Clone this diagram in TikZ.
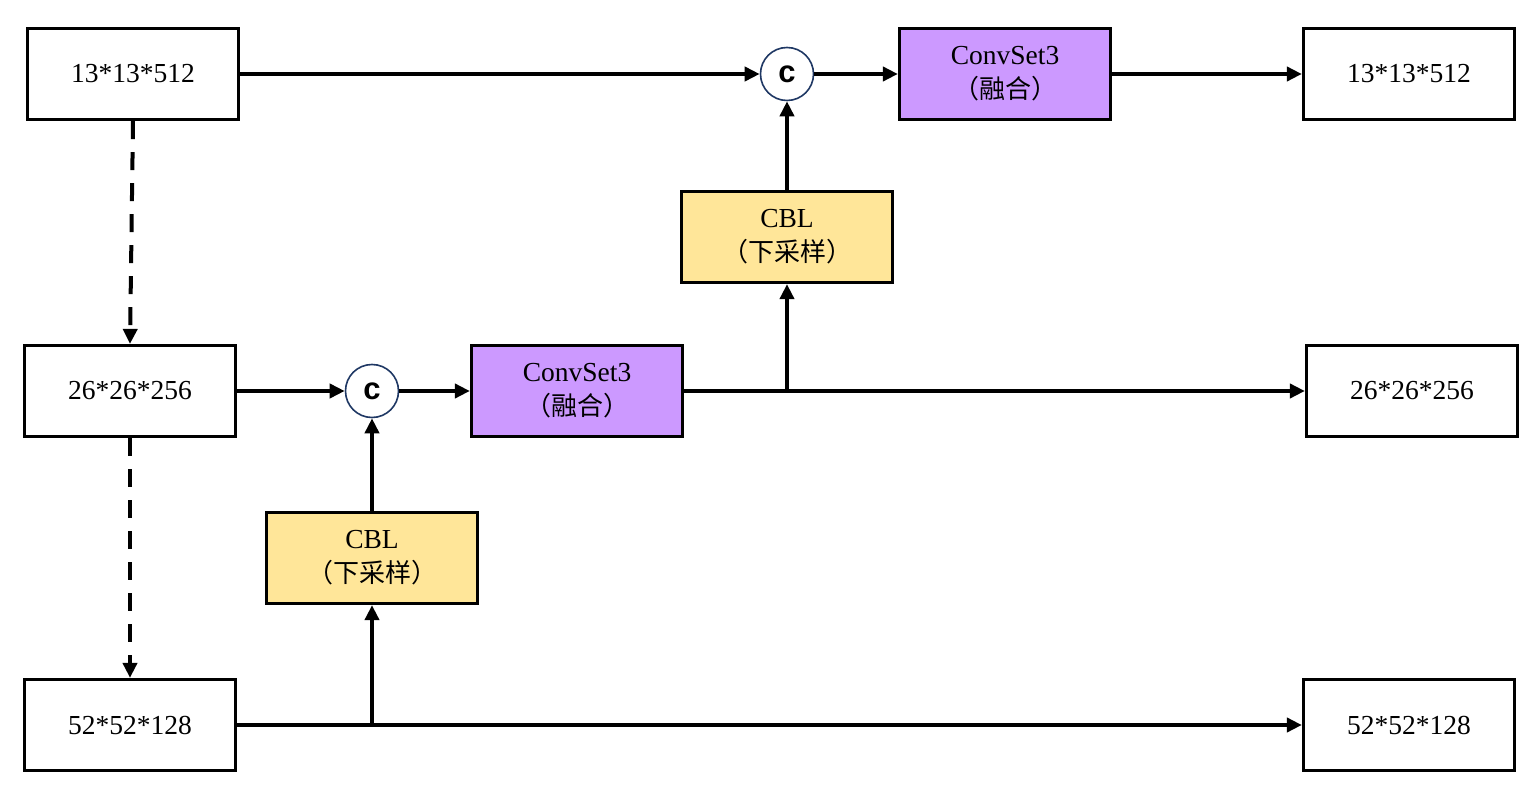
\documentclass[tikz,border=0pt]{standalone}
\usepackage{fontspec}
\setmainfont{Liberation Serif}
\newfontfamily\cjk{Noto Sans CJK SC}
\newfontfamily\arialfont{Liberation Sans}
\usetikzlibrary{arrows.meta}
\definecolor{purplefill}{HTML}{CC99FF}
\definecolor{yellowfill}{HTML}{FFE699}
\definecolor{circedge}{HTML}{1F3864}
\begin{document}
\begin{tikzpicture}[x=1pt,y=-1pt,
  box/.style={draw=black,line width=3.2pt,minimum width=211pt,minimum height=91pt,inner sep=0pt,align=center,font=\fontsize{27.5}{34}\selectfont},
  convbox/.style={box,fill=purplefill},
  cblbox/.style={box,fill=yellowfill},
  cat/.style={draw=circedge,line width=1.6pt,circle,minimum size=53pt,inner sep=0pt,fill=white,font=\arialfont\bfseries\fontsize{31}{31}\selectfont},
  conn/.style={line width=4pt,-{Triangle[length=15pt,width=14pt]}},
  dashconn/.style={line width=4pt,dash pattern=on 18pt off 13pt,-{Triangle[length=15pt,width=14pt]}}
]
\useasboundingbox (0,0) rectangle (1540,786);

\node[box] (a1) at (133,74) {13*13*512};
\node[box] (a2) at (130,391) {26*26*256};
\node[box] (a3) at (130,725) {52*52*128};
\node[box] (r1) at (1409,74) {13*13*512};
\node[box] (r2) at (1412,391) {26*26*256};
\node[box] (r3) at (1409,725) {52*52*128};
\node[convbox] (cs1) at (1005,74) {ConvSet3\\{\cjk\fontsize{26}{34}\selectfont （融合）}};
\node[convbox] (cs2) at (577,391) {ConvSet3\\{\cjk\fontsize{26}{34}\selectfont （融合）}};
\node[cblbox] (cbl1) at (787,237) {CBL\\{\cjk\fontsize{26}{34}\selectfont （下采样）}};
\node[cblbox] (cbl2) at (372,558) {CBL\\{\cjk\fontsize{26}{34}\selectfont （下采样）}};
\node[cat] (c1) at (787,74) {c};
\node[cat] (c2) at (372,391) {c};

\coordinate (j1) at (cbl1 |- cs2);
\coordinate (j2) at (cbl2 |- a3);

\draw[conn] (a1.east) -- (c1.west);
\draw[conn] (c1.east) -- (cs1.west);
\draw[conn] (cs1.east) -- (r1.west);
\draw[conn] (cbl1.north) -- (c1.south);
\draw[conn] (cs2.east) -- (r2.west);
\draw[conn] (j1) -- (cbl1.south);
\draw[conn] (a2.east) -- (c2.west);
\draw[conn] (c2.east) -- (cs2.west);
\draw[conn] (cbl2.north) -- (c2.south);
\draw[conn] (a3.east) -- (r3.west);
\draw[conn] (j2) -- (cbl2.south);
\draw[dashconn] (a1.south) -- (a2.north);
\draw[dashconn] (a2.south) -- (a3.north);
\end{tikzpicture}
\end{document}
